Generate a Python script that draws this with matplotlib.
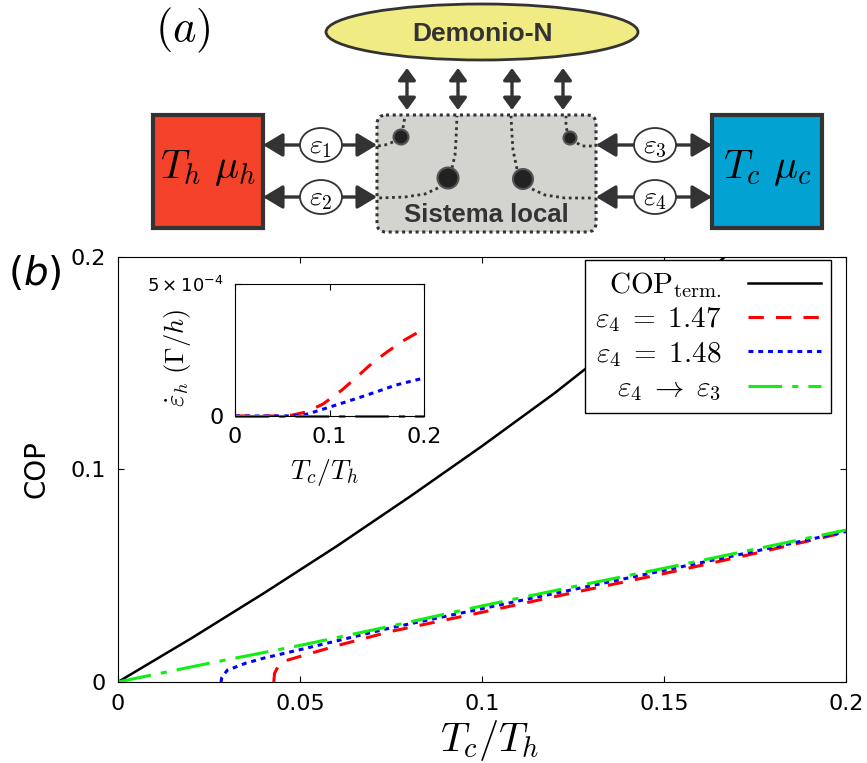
import matplotlib
matplotlib.use('Agg')
import matplotlib.pyplot as plt
from matplotlib.patches import Rectangle, Ellipse, Circle, FancyBboxPatch, FancyArrowPatch

plt.rcParams['mathtext.fontset'] = 'cm'

# thermodynamic bound
x_term = [0, 0.02, 0.04, 0.06, 0.08, 0.1, 0.12, 0.14, 0.16, 0.18]
cop_term = [0, 0.0204, 0.0417, 0.0638, 0.087, 0.111, 0.136, 0.163, 0.19, 0.22]

# eps4 = 1.47
x_147 = [0.0428, 0.043, 0.044, 0.045, 0.05, 0.06, 0.075, 0.1, 0.125, 0.15, 0.175, 0.2]
cop_147 = [0, 0.004, 0.0075, 0.0095, 0.012, 0.017, 0.0238, 0.0328, 0.042, 0.051, 0.0605, 0.0705]

# eps4 = 1.48
x_148 = [0.0283, 0.0285, 0.03, 0.035, 0.04, 0.05, 0.06, 0.075, 0.1, 0.125, 0.15, 0.175, 0.2]
cop_148 = [0, 0.002, 0.0055, 0.0088, 0.0112, 0.0152, 0.0193, 0.0255, 0.0345, 0.0435, 0.0525, 0.0615, 0.0708]

# eps4 -> eps3
x_lim = [0, 0.025, 0.05, 0.075, 0.1, 0.125, 0.15, 0.175, 0.2]
cop_lim = [0, 0.0088, 0.0172, 0.0263, 0.0358, 0.0448, 0.0535, 0.0625, 0.0715]

# heat current from the hot bath (units of 1e-4 Gamma/h)
xi_147 = [0, 0.05, 0.06, 0.075, 0.093, 0.113, 0.129, 0.145, 0.161, 0.178, 0.2]
q_147 = [0, 0, 0.03, 0.15, 0.45, 0.98, 1.48, 2.0, 2.43, 2.85, 3.3]
xi_148 = [0, 0.05, 0.065, 0.075, 0.088, 0.11, 0.13, 0.15, 0.17, 0.2]
q_148 = [0, 0, 0.01, 0.06, 0.2, 0.45, 0.68, 0.92, 1.17, 1.44]
xi_lim = [0, 0.2]
q_lim = [0, 0]

x_ticks = [0, 0.05, 0.1, 0.15, 0.2]
x_ticklabels = ['0', '0.05', '0.1', '0.15', '0.2']
y_ticks = [0, 0.1, 0.2]
y_ticklabels = ['0', '0.1', '0.2']

labels = [r'$\mathrm{COP}_{\rm term.}$', r'$\varepsilon_4\;=\;1.47$',
          r'$\varepsilon_4\;=\;1.48$', r'$\varepsilon_4\;\rightarrow\;\varepsilon_3$']

DARK = '#333333'
RED_LS = (0, (5, 4))
BLUE_LS = (0, (1.6, 1.6))
GREEN_LS = (0, (11, 3.3, 2, 3.3))


def arrow(ax, p0, p1, hl, hw):
    a = FancyArrowPatch(p0, p1, arrowstyle=f'<|-|>,head_length={hl},head_width={hw}',
                        mutation_scale=16, lw=2.4, color=DARK,
                        shrinkA=0, shrinkB=0, zorder=2)
    ax.add_patch(a)


def draw_diagram(ax):
    ax.set_xlim(0, 867)
    ax.set_ylim(240, 0)
    ax.axis('off')

    ax.text(183, 30, r'$(a)$', fontsize=32, ha='center', va='center')

    # demon
    ax.add_patch(Ellipse((482, 32), 312, 56, fc='#f0eb82', ec=DARK, lw=2))
    ax.text(482, 34, 'Demonio-N', family='Liberation Sans', weight='bold',
            size=19, color=DARK, ha='center', va='center')
    for x in (407, 458, 512, 563):
        arrow(ax, (x, 68), (x, 110), 0.45, 0.33)

    # reservoirs
    ax.add_patch(Rectangle((153, 115), 110, 113, fc='#f4432a', ec=DARK, lw=3))
    ax.add_patch(Rectangle((712, 115), 110, 113, fc='#02a3d3', ec=DARK, lw=3))
    ax.text(208, 168, r'$T_h\ \mu_h$', fontsize=29, ha='center', va='center')
    ax.text(767, 168, r'$T_c\ \mu_c$', fontsize=29, ha='center', va='center')

    # local system
    ax.add_patch(FancyBboxPatch((377, 115), 219, 117,
                                boxstyle='round,pad=0,rounding_size=9',
                                fc='#d3d3cf', ec=DARK, lw=2.2, ls=(0, (1, 1.2))))
    ax.text(486, 215, 'Sistema local', family='Liberation Sans', weight='bold',
            size=18.5, color=DARK, ha='center', va='center')

    # leads with their levels
    for (x0, x1, xc) in ((263, 377, 321), (596, 712, 655)):
        for y in (145, 197):
            arrow(ax, (x0, y), (x1, y), 0.75, 0.45)
            ax.add_patch(Ellipse((xc, y), 42, 34, fc='white', ec=DARK, lw=1.3, zorder=3))
    for (xc, y, n) in ((321, 145, 1), (321, 197, 2), (655, 145, 3), (655, 197, 4)):
        ax.text(xc, y + 1, rf'$\varepsilon_{n}$', fontsize=20, ha='center', va='center', zorder=4)

    # dotted couplings inside the system
    dot = dict(color=DARK, lw=2, ls=(0, (1, 1.3)), zorder=3)
    ax.plot([403, 404, 405], [128, 122, 116], **dot)
    ax.plot([393, 385, 378], [142, 145, 146], **dot)
    ax.plot([452, 455, 456, 457], [168, 155, 140, 116], **dot)
    ax.plot([438, 425, 405, 378], [188, 194, 197, 198], **dot)
    ax.plot([517, 513, 512, 511], [169, 150, 135, 116], **dot)
    ax.plot([532, 545, 565, 594], [189, 195, 198, 198], **dot)
    ax.plot([567, 566, 566], [131, 124, 116], **dot)
    ax.plot([577, 582, 594], [143, 146, 146], **dot)

    for (xc, yc, r) in ((401, 137, 7.5), (448, 178, 10.5), (523, 179, 10), (570, 138, 6.5)):
        ax.add_patch(Circle((xc, yc), r, fc='#222222', ec='#555555', lw=1.5, zorder=4))


fig = plt.figure(figsize=(8.67, 7.63), dpi=100)

diag = fig.add_axes([0, 1 - 240 / 763, 1, 240 / 763])
draw_diagram(diag)

ax = fig.add_axes([0.1361, 0.1062, 0.8397, 0.557])
l0, = ax.plot(x_term, cop_term, color='black', lw=1.8)
l1, = ax.plot(x_147, cop_147, color='red', lw=2.2, ls=RED_LS)
l2, = ax.plot(x_148, cop_148, color='blue', lw=2.2, ls=BLUE_LS)
l3, = ax.plot(x_lim, cop_lim, color='#11ee11', lw=2.2, ls=GREEN_LS)
ax.set_xlim(0, 0.2)
ax.set_ylim(0, 0.2)
ax.set_xticks(x_ticks)
ax.set_xticklabels(x_ticklabels)
ax.set_yticks(y_ticks)
ax.set_yticklabels(y_ticklabels)
ax.tick_params(direction='in', top=True, right=True, labelsize=16, pad=9, length=4)
ax.set_xlabel(r'$T_c/T_h$', fontsize=29)
ax.xaxis.set_label_coords(0.511, -0.085)
ax.set_ylabel('COP', fontsize=20)
ax.yaxis.set_label_coords(-0.093, 0.5)

leg = ax.legend([l0, l1, l2, l3], labels, loc='upper right',
                bbox_to_anchor=(0.979, 0.993), fontsize=21, markerfirst=False,
                handlelength=2.5, handletextpad=0.9, labelspacing=0.18, borderpad=0.35,
                borderaxespad=0, fancybox=False, framealpha=1, edgecolor='black')
leg.get_frame().set_linewidth(1.0)

fig.text(35 / 867, 1 - 273 / 763, r'$(b)$', fontsize=28, ha='center', va='center',
         math_fontfamily='dejavusans')

# inset: heat current
ins = fig.add_axes([0.2711, 0.4548, 0.218, 0.173])
ins.plot(xi_147, q_147, color='red', lw=2.2, ls=RED_LS)
ins.plot(xi_148, q_148, color='blue', lw=2.2, ls=BLUE_LS)
ins.plot(xi_lim, q_lim, color='#2e9e2e', lw=2.2, ls=GREEN_LS, clip_on=False)
ins.set_xlim(0, 0.2)
ins.set_ylim(0, 5)
ins.set_xticks([0, 0.1, 0.2])
ins.set_xticklabels(['0', '0.1', '0.2'])
ins.set_yticks([0, 5])
ins.set_yticklabels(['0', r'$5\times10^{-4}$'], math_fontfamily='dejavusans')
ins.tick_params(direction='in', top=True, right=True, labelsize=16, pad=8, length=4)
ins.get_yticklabels()[1].set_fontsize(13)
ins.set_ylabel(r'$\dot{\varepsilon}_h\ (\Gamma/h)$', fontsize=19)
ins.yaxis.set_label_coords(-0.22, 0.44)
ins.set_xlabel(r'$T_c/T_h$', fontsize=20)
ins.xaxis.set_label_coords(0.476, -0.31)

fig.savefig('out.png', dpi=100)
